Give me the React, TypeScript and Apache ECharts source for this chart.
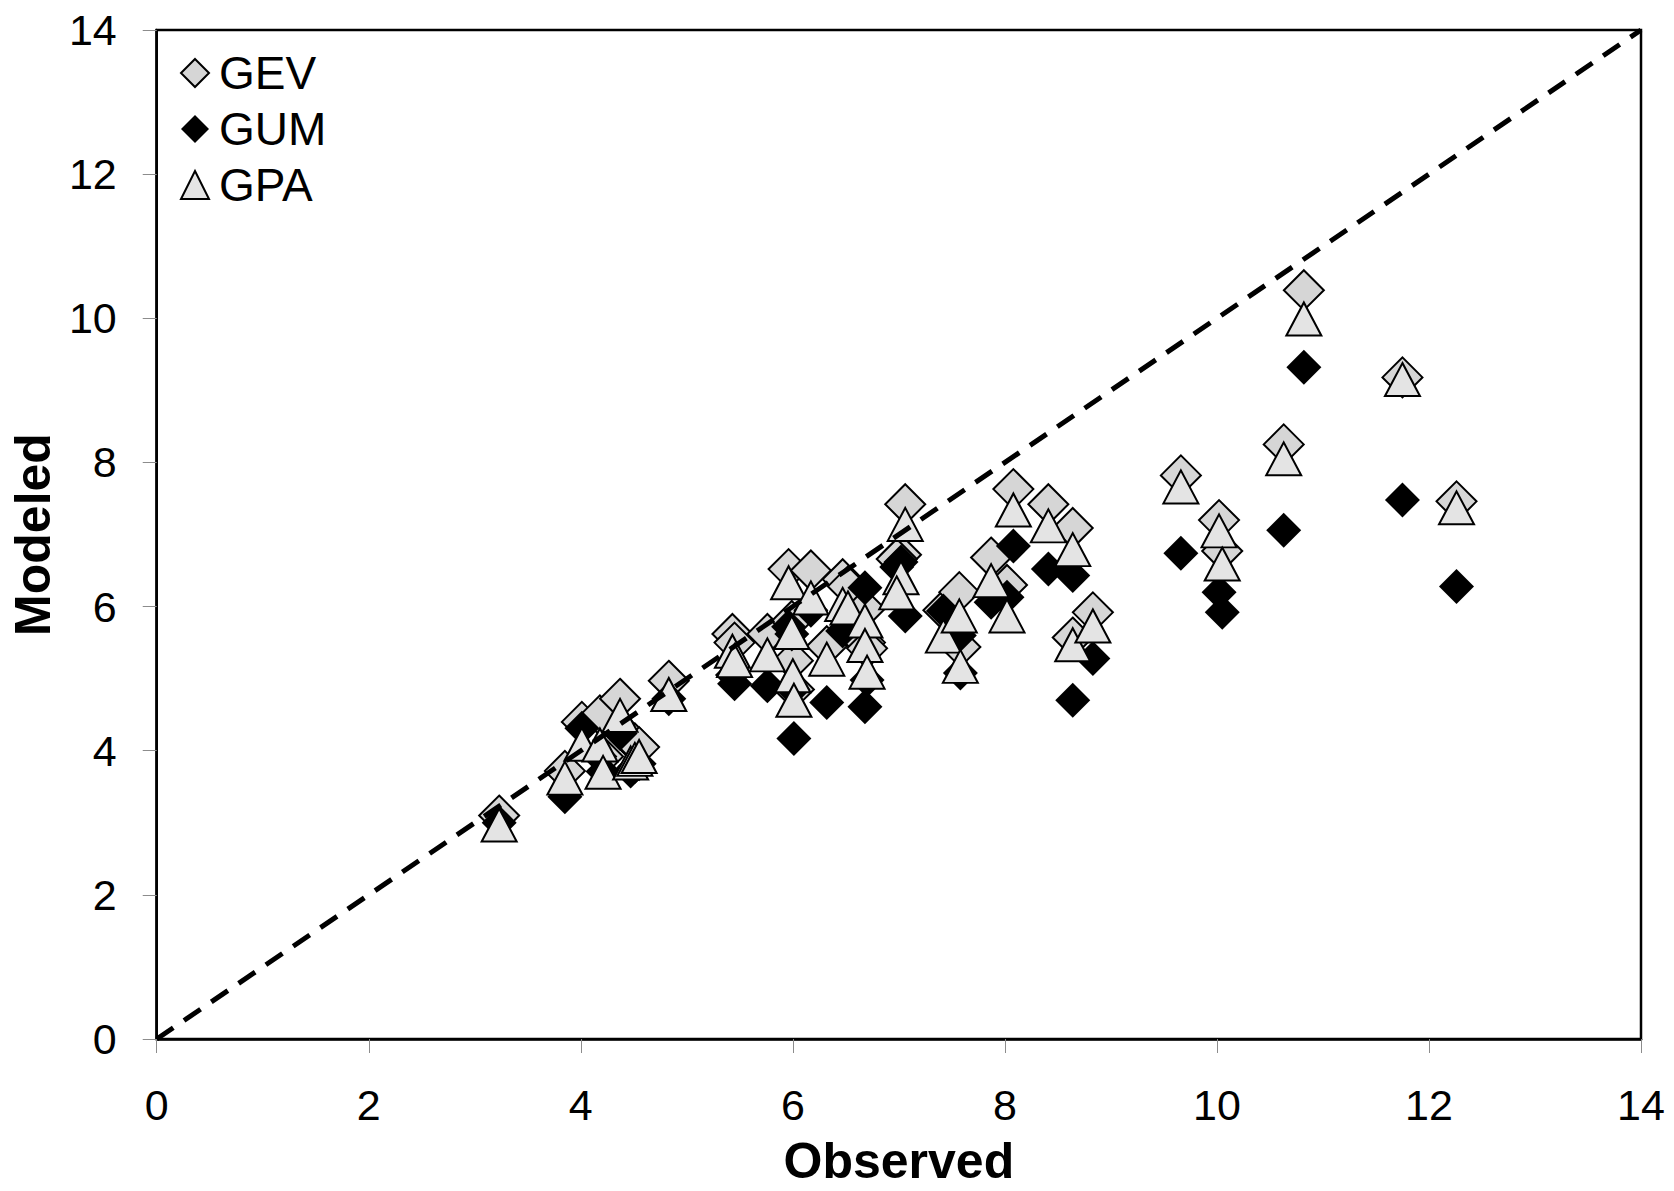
import React, { useEffect, useRef } from "react";
import * as echarts from "echarts";

// Observed values (x) and modeled values per distribution (y)
const observed = [
  3.23, 3.85, 4.01, 4.18, 4.21, 4.37, 4.47, 4.51, 4.55, 4.83,
  5.43, 5.45, 5.76, 5.96, 5.99, 6.0, 6.01, 6.17, 6.32, 6.47,
  6.52, 6.68, 6.68, 6.7, 7.06, 7.02, 6.98, 7.42, 7.57, 7.58,
  7.87, 8.02, 8.08, 8.41, 8.64, 8.64, 8.83, 9.66, 10.02, 10.05,
  10.63, 10.82, 11.75, 12.26,
];
const gevModeled = [
  3.1, 3.72, 4.4, 4.49, 3.92, 4.72, 4.15, 4.1, 4.05, 4.97,
  5.62, 5.5, 5.62, 6.52, 5.8, 5.25, 4.85, 6.5, 5.45, 6.38,
  6.28, 5.97, 5.5, 5.42, 7.42, 6.72, 6.66, 5.95, 6.2, 5.44,
  6.68, 6.3, 7.63, 7.42, 7.09, 5.57, 5.92, 7.82, 7.2, 6.77,
  8.25, 10.39, 9.18, 7.46,
];
const gumModeled = [
  3.0, 3.36, 4.31, 3.92, 3.71, 4.24, 3.72, 3.78, 3.82, 4.72,
  5.05, 4.93, 4.9, 5.72, 5.62, 4.85, 4.17, 5.95, 4.67, 5.66,
  5.75, 6.26, 4.61, 4.98, 5.87, 6.62, 6.55, 5.94, 5.6, 5.08,
  6.06, 6.13, 6.84, 6.52, 6.43, 4.7, 5.28, 6.74, 6.2, 5.92,
  7.06, 9.32, 7.48, 6.28,
];
const gpaModeled = [
  2.97, 3.62, 4.09, 4.08, 3.7, 4.49, 3.83, 3.88, 3.92, 4.78,
  5.38, 5.25, 5.33, 6.33, 5.64, 5.04, 4.7, 6.12, 5.27, 6.03,
  5.98, 5.8, 5.46, 5.09, 7.14, 6.4, 6.19, 5.59, 5.87, 5.17,
  6.36, 5.87, 7.34, 7.12, 6.79, 5.47, 5.73, 7.66, 7.05, 6.59,
  8.05, 9.99, 9.15, 7.37,
];
const seriesNames = ["GEV", "GUM", "GPA"];
const refLine = [
  [0, 0],
  [14, 14],
];
const axisMin = 0;
const axisMax = 14;
const axisStep = 2;

const FONT = "'Liberation Sans', Arial, sans-serif";

export default function App() {
  const ref = useRef<HTMLDivElement>(null);

  useEffect(() => {
    if (!ref.current) return;
    const chart = echarts.init(ref.current, undefined, { renderer: "svg" });

    const axisCommon = {
      type: "value" as const,
      min: axisMin,
      max: axisMax,
      interval: axisStep,
      axisLine: { show: true, lineStyle: { color: "#000", width: 2.5 } },
      axisTick: { show: true, inside: false, length: 14, lineStyle: { color: "#8c8c8c", width: 1 } },
      splitLine: { show: false },
      nameLocation: "middle" as const,
      nameTextStyle: { fontSize: 50, fontWeight: "bold", color: "#000", fontFamily: FONT },
    };

    chart.setOption({
      animation: false,
      backgroundColor: "#fff",
      grid: {
        left: 149,
        right: 33,
        top: 30,
        bottom: 147,
        show: true,
        borderColor: "#000",
        borderWidth: 2.5,
        backgroundColor: "transparent",
      },
      legend: {
        data: seriesNames,
        orient: "vertical",
        left: 175,
        top: 45,
        itemWidth: 28,
        itemHeight: 28,
        itemGap: 10,
        selectedMode: false,
        textStyle: {
          fontSize: 46,
          lineHeight: 46,
          color: "#000",
          fontFamily: FONT,
          padding: [0, 0, 0, 5],
        },
      },
      xAxis: {
        ...axisCommon,
        name: "Observed",
        nameGap: 97,
        axisLabel: { fontSize: 43, color: "#000", margin: 44, fontFamily: FONT },
      },
      yAxis: {
        ...axisCommon,
        name: "Modeled",
        nameGap: 80,
        axisLabel: { fontSize: 43, color: "#000", margin: 40, fontFamily: FONT },
      },
      series: [
        {
          name: "GEV",
          type: "scatter",
          symbol: "diamond",
          symbolSize: 40,
          data: observed.map((x, i) => [x, gevModeled[i]]),
          itemStyle: { color: "#d6d6d6", borderColor: "#000", borderWidth: 2, opacity: 1 },
          emphasis: { disabled: true },
          z: 2,
        },
        {
          name: "GUM",
          type: "scatter",
          symbol: "diamond",
          symbolSize: 35,
          data: observed.map((x, i) => [x, gumModeled[i]]),
          itemStyle: { color: "#000", opacity: 1 },
          emphasis: { disabled: true },
          z: 3,
        },
        {
          name: "GPA",
          type: "scatter",
          symbol: "triangle",
          symbolSize: [35, 33],
          data: observed.map((x, i) => [x, gpaModeled[i]]),
          itemStyle: { color: "#e4e4e4", borderColor: "#000", borderWidth: 2, opacity: 1 },
          emphasis: { disabled: true },
          z: 4,
        },
        {
          name: "1:1",
          type: "line",
          data: refLine,
          showSymbol: false,
          symbol: "none",
          silent: true,
          lineStyle: { color: "#000", width: 5, type: [20, 13] },
          z: 5,
        },
      ],
    });

    return () => chart.dispose();
  }, []);

  return (
    <div
      ref={ref}
      style={{ position: "fixed", left: 0, top: 0, width: 1674, height: 1191, background: "#fff" }}
    />
  );
}
